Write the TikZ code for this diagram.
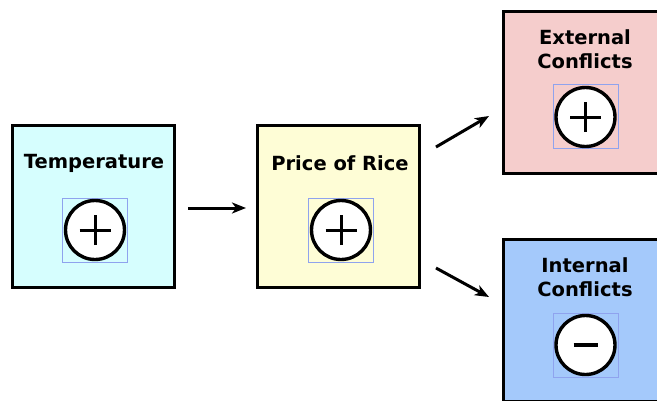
\documentclass[tikz,border=0pt]{standalone}
\usepackage{fontspec}
\setmainfont{DejaVu Sans}
\usetikzlibrary{arrows.meta}
\definecolor{tempfill}{HTML}{D6FEFE}
\definecolor{ricefill}{HTML}{FEFDD6}
\definecolor{extfill}{HTML}{F5CDCC}
\definecolor{intfill}{HTML}{A4C9FB}
\definecolor{selblue}{HTML}{8FA3EE}
\begin{document}
\begin{tikzpicture}[x=1pt,y=-1pt,
  factorbox/.style={draw=black,line width=3.5pt,minimum width=162pt,minimum height=162pt,inner sep=0pt},
  boxlabel/.style={font=\bfseries\fontsize{19.5}{23.5}\selectfont,align=center,inner sep=0pt},
  selrect/.style={draw=selblue,line width=0.8pt,minimum width=65pt,minimum height=64pt,inner sep=0pt},
  signcircle/.style={circle,draw=black,fill=white,line width=3.4pt,minimum size=59pt,inner sep=0pt},
  signbar/.style={line width=3pt},
  causal/.style={line width=3pt,-{Stealth[length=14pt,width=11pt,inset=4pt]}}]
\useasboundingbox (0,0) rectangle (657,400);
\clip (0,0) rectangle (657,400);
% boxes
\node[factorbox,fill=tempfill] (temp) at (93.5,206.5) {};
\node[factorbox,fill=ricefill] (rice) at (338.5,206.5) {};
\node[factorbox,fill=extfill] (ext) at (584.5,92.5) {};
\node[factorbox,fill=intfill] (int) at (584.5,320.5) {};
% labels
\node[boxlabel] (templ) at (94,163) {Temperature};
\node[boxlabel] (ricel) at (340,163) {Price of Rice};
\node[boxlabel] (extl) at (585,49) {External\\Conflicts};
\node[boxlabel] (intl) at (585,277) {Internal\\Conflicts};
% selection rects and circles
\node[selrect] (temps) at (94.5,230) {};
\node[signcircle] (tempc) at (95,230) {};
\node[selrect] (rices) at (340.5,230) {};
\node[signcircle] (ricec) at (341,230) {};
\node[selrect] (exts) at (586,116.5) {};
\node[signcircle] (extc) at (585.5,117) {};
\node[selrect] (ints) at (586,345) {};
\node[signcircle] (intc) at (585.5,345) {};
% signs
\draw[signbar] ([xshift=-15.5pt]tempc.center) -- ([xshift=15.5pt]tempc.center);
\draw[signbar] ([yshift=-15pt]tempc.center) -- ([yshift=15pt]tempc.center);
\draw[signbar] ([xshift=-15.5pt]ricec.center) -- ([xshift=15.5pt]ricec.center);
\draw[signbar] ([yshift=-15pt]ricec.center) -- ([yshift=15pt]ricec.center);
\draw[signbar] ([xshift=-15.5pt]extc.center) -- ([xshift=15.5pt]extc.center);
\draw[signbar] ([yshift=-15pt]extc.center) -- ([yshift=15pt]extc.center);
\draw[line width=3.4pt] ([xshift=-12pt]intc.center) -- ([xshift=12pt]intc.center);
% arrows
\coordinate (a1s) at (188,208);
\coordinate (a1e) at (246,208);
\coordinate (a2s) at (436,147);
\coordinate (a2e) at (489,116);
\coordinate (a3s) at (436,268);
\coordinate (a3e) at (489,297);
\draw[causal] (a1s) -- (a1e);
\draw[causal] (a2s) -- (a2e);
\draw[causal] (a3s) -- (a3e);
\end{tikzpicture}
\end{document}
